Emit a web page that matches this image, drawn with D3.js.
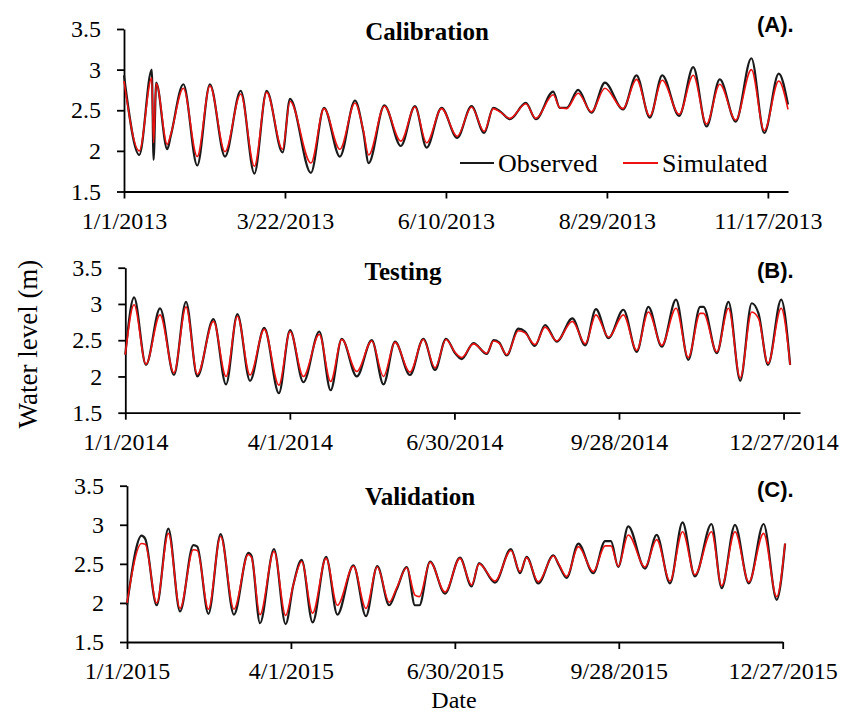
<!DOCTYPE html>
<html>
<head>
<meta charset="utf-8">
<script src="https://cdn.jsdelivr.net/npm/d3@7"></script>
<style>
  body { margin: 0; background: #fff; }
  svg text { font-family: "Liberation Serif", "Times New Roman", serif; fill: #000; }
  .axis path, .axis line { stroke: #000; stroke-width: 1.8px; }
  .axis text { font-size: 24px; }
</style>
</head>
<body>
<svg id="chart" width="847" height="713"></svg>
<script>
// ---- data: turning points (days since Jan 1) ----
const daysA = [0,7.6,13.8,14.7,16,21.5,23.2,29.5,36.4,42.7,50.2,58,64.8,70.9,78.8,82.5,92.9,99.4,107.3,114.8,118.9,121.6,129.4,137.6,144.6,150.4,157.8,165.6,172.7,179,183.5,186.8,191.8,199.7,204.7,213.3,216.6,220,225.7,232.3,239,248,254.7,261.3,267.5,275.9,282.9,289.5,296.1,304,311.8,318.2,325.4,330];
const obsA  = [2.93,1.95,3.0,1.89,2.84,2.02,2.18,2.82,1.82,2.82,1.93,2.74,1.72,2.74,1.98,2.64,1.73,2.53,1.93,2.62,2.24,1.85,2.56,2.06,2.55,2.04,2.53,2.16,2.55,2.22,2.53,2.49,2.39,2.59,2.39,2.73,2.53,2.53,2.75,2.47,2.84,2.51,2.93,2.41,2.93,2.43,3.03,2.30,2.88,2.36,3.14,2.22,2.95,2.57];
const simA  = [2.86,2.0,2.9,2.1,2.83,2.08,2.2,2.77,1.93,2.80,1.99,2.70,1.81,2.72,2.02,2.61,1.85,2.52,2.02,2.59,2.26,1.95,2.55,2.12,2.54,2.10,2.52,2.18,2.54,2.24,2.52,2.48,2.40,2.58,2.40,2.69,2.53,2.52,2.71,2.48,2.77,2.52,2.88,2.43,2.87,2.45,2.93,2.33,2.82,2.38,3.0,2.25,2.86,2.51];

const daysB = [0,4.8,11.3,19,26.6,33.2,39.4,48.2,55.1,61.3,68.2,76,84,90.1,97.4,106.1,112.3,118.4,126.6,134.8,141.2,147.5,155.7,163,169.4,175.4,180.4,184,190.4,197.7,201.4,204.4,208.6,215,218.6,224,229.6,236,244.5,251.5,257.4,264.3,272.4,279.7,286.1,293.4,301.2,307.9,314.4,316.2,323.5,329.9,336.3,342.6,346.3,351.5,358.7,363.6];
const obsB  = [2.30,3.09,2.16,2.94,2.02,3.03,2.00,2.79,1.89,2.86,1.94,2.67,1.77,2.64,1.92,2.62,1.81,2.52,2.00,2.50,1.89,2.48,2.02,2.52,2.09,2.52,2.32,2.24,2.46,2.31,2.50,2.47,2.29,2.66,2.62,2.42,2.71,2.48,2.80,2.43,2.93,2.53,2.92,2.34,2.96,2.41,3.06,2.23,2.96,2.96,2.32,3.03,1.94,3.01,2.87,2.16,3.06,2.16];
const simB  = [2.30,2.99,2.17,2.85,2.05,2.96,2.03,2.76,2.00,2.83,2.02,2.65,1.88,2.62,2.00,2.58,1.93,2.51,2.07,2.49,2.00,2.47,2.06,2.51,2.12,2.51,2.33,2.26,2.45,2.32,2.49,2.46,2.30,2.63,2.60,2.44,2.68,2.49,2.76,2.45,2.85,2.54,2.85,2.36,2.89,2.43,2.94,2.26,2.87,2.87,2.34,2.94,1.98,2.89,2.80,2.18,2.94,2.16];

const daysC = [0,8,10,16.3,22.7,29.1,36.4,38.6,44.7,51.4,58.7,66.6,68.4,73,80.7,87.1,91.3,95.9,101.9,109.3,115.5,124.3,131.2,137.4,144,148,153.6,158.1,160.5,166.4,174.6,182.8,189.2,193.3,202,210.8,215.8,219.4,225.8,234.1,237,241.4,247.8,256,262.5,265.7,269.7,275.2,284.4,290.8,298.1,305,311.8,320.9,326.5,333.8,341.4,349.5,356.7,361.3];
const obsC  = [1.97,2.86,2.82,1.97,2.95,1.89,2.74,2.72,1.86,2.88,1.85,2.64,2.60,1.74,2.69,1.73,2.23,2.55,1.75,2.59,1.85,2.48,1.83,2.47,1.97,2.17,2.46,1.97,1.97,2.53,2.12,2.58,2.21,2.51,2.26,2.69,2.38,2.59,2.25,2.61,2.49,2.32,2.76,2.38,2.79,2.79,2.46,2.98,2.44,2.87,2.25,3.03,2.34,3.01,2.19,3.00,2.25,3.01,2.04,2.76];
const simC  = [2.00,2.76,2.75,2.00,2.89,1.93,2.68,2.67,1.92,2.85,1.92,2.62,2.58,1.85,2.66,1.84,2.23,2.53,1.87,2.57,1.97,2.47,1.93,2.46,2.01,2.19,2.45,2.10,2.08,2.52,2.14,2.57,2.23,2.50,2.28,2.67,2.40,2.58,2.27,2.60,2.50,2.34,2.72,2.40,2.73,2.73,2.47,2.87,2.46,2.81,2.28,2.91,2.36,2.91,2.22,2.91,2.27,2.89,2.08,2.76];

const ticksA = ["1/1/2013","3/22/2013","6/10/2013","8/29/2013","11/17/2013"];
const ticksB = ["1/1/2014","4/1/2014","6/30/2014","9/28/2014","12/27/2014"];
const ticksC = ["1/1/2015","4/1/2015","6/30/2015","9/28/2015","12/27/2015"];
const yTicks = [1.5, 2, 2.5, 3, 3.5];

// ---- layout ----
const panels = [
  {title: "Calibration", tag: "(A).", days: daysA, obs: obsA, sim: simA, ticks: ticksA, span: 330,
   left: 124, right: 788, top: 29, bottom: 191.5, titleX: 427, titleY: 40, tagY: 32, legend: true},
  {title: "Testing", tag: "(B).", days: daysB, obs: obsB, sim: simB, ticks: ticksB, span: 369,
   left: 125.3, right: 800, top: 267.7, bottom: 412.7, titleX: 403, titleY: 280, tagY: 278},
  {title: "Validation", tag: "(C).", days: daysC, obs: obsC, sim: simC, ticks: ticksC, span: 360,
   left: 127, right: 782.7, top: 485.7, bottom: 642, titleX: 420, titleY: 505, tagY: 497}
];

const svg = d3.select("#chart");
const parse = d3.utcParse("%m/%d/%Y");
const fmt = d3.utcFormat("%-m/%-d/%Y");
const DAY = 864e5;

panels.forEach(p => {
  const start = parse(p.ticks[0]);
  const x = d3.scaleUtc()
      .domain([start, new Date(+start + p.span * DAY)])
      .range([p.left, p.right]);
  const y = d3.scaleLinear().domain([1.5, 3.5]).range([p.bottom, p.top]);

  const g = svg.append("g");

  g.append("g")
      .attr("class", "axis")
      .attr("transform", `translate(0,${p.bottom})`)
      .call(d3.axisBottom(x).tickValues(p.ticks.map(parse)).tickFormat(fmt)
              .tickSizeInner(7).tickSizeOuter(0).tickPadding(13));

  g.append("g")
      .attr("class", "axis")
      .attr("transform", `translate(${p.left},0)`)
      .call(d3.axisLeft(y).tickValues(yTicks).tickFormat(d3.format(""))
              .tickSizeInner(7).tickSizeOuter(0).tickPadding(16));

  const pts = p.days.map((d, i) => ({t: new Date(+start + d * DAY), o: p.obs[i], s: p.sim[i]}));
  const line = key => d3.line().x(d => x(d.t)).y(d => y(d[key])).curve(d3.curveMonotoneX);

  g.append("path").datum(pts)
      .attr("d", line("o"))
      .attr("fill", "none").attr("stroke", "#1a1a1a").attr("stroke-width", 2.2);
  g.append("path").datum(pts)
      .attr("d", line("s"))
      .attr("fill", "none").attr("stroke", "#ee1111").attr("stroke-width", 1.6);

  g.append("text")
      .attr("x", p.titleX).attr("y", p.titleY)
      .attr("text-anchor", "middle")
      .style("font-size", "25px").style("font-weight", "bold")
      .text(p.title);

  g.append("text")
      .attr("x", 757).attr("y", p.tagY)
      .style("font-family", "'Liberation Sans', Arial, sans-serif")
      .style("font-size", "22px").style("font-weight", "bold")
      .text(p.tag);

  //legend only on the first panel
  if (p.legend) {
    g.append("line").attr("x1", 460).attr("x2", 494).attr("y1", 163).attr("y2", 163)
        .attr("stroke", "#1a1a1a").attr("stroke-width", 1.8);
    g.append("text").attr("x", 498).attr("y", 172).style("font-size", "26px").text("Observed");
    g.append("line").attr("x1", 623).attr("x2", 658).attr("y1", 163).attr("y2", 163)
        .attr("stroke", "#ee1111").attr("stroke-width", 1.8);
    g.append("text").attr("x", 662).attr("y", 172).style("font-size", "26px").text("Simulated");
  }
});

//axis titles
svg.append("text")
    .attr("transform", "translate(37,344) rotate(-90)")
    .attr("text-anchor", "middle")
    .style("font-size", "27px")
    .text("Water level (m)");

svg.append("text")
    .attr("x", 454).attr("y", 708)
    .attr("text-anchor", "middle")
    .style("font-size", "24px")
    .text("Date");
</script>
</body>
</html>
